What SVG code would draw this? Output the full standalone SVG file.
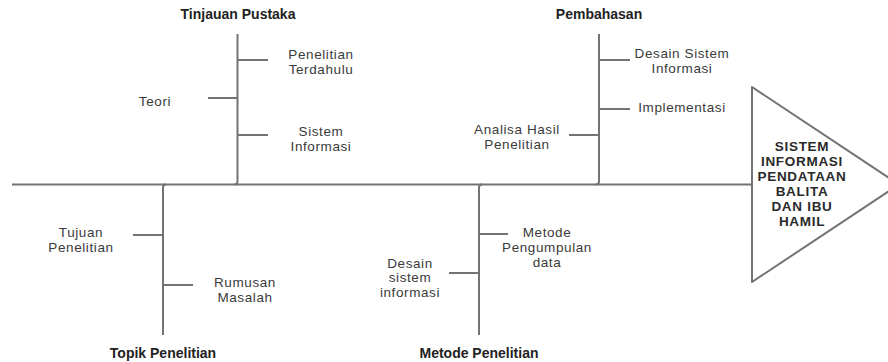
<svg xmlns="http://www.w3.org/2000/svg" width="888" height="362" viewBox="0 0 888 362">
<style>
.ln{fill:none;stroke:#737373;stroke-width:2;stroke-linecap:butt}
.t{font-family:"Liberation Sans",Arial,sans-serif;font-size:13.5px;letter-spacing:0.6px;fill:#3a3a3a;text-anchor:middle}
.h{font-family:"Liberation Sans",Arial,sans-serif;font-size:14px;font-weight:bold;fill:#222;text-anchor:middle}
.b{font-family:"Liberation Sans",Arial,sans-serif;font-size:13.5px;letter-spacing:0.7px;font-weight:bold;fill:#2a2a2a;text-anchor:middle}
</style>
<rect width="888" height="362" fill="#ffffff"/>
<g id="connectors">
<path class="ln" d="M12 184.5 H752"/>
<path class="ln" d="M237.5 34 V181.5 Q237.5 184.5 234.5 184.5"/>
<path class="ln" d="M599 34 V181.5 Q599 184.5 596 184.5"/>
<path class="ln" d="M166 184.5 Q163 184.5 163 187.5 V335"/>
<path class="ln" d="M482 184.5 Q479 184.5 479 187.5 V335"/>
<path class="ln" d="M238 60 H268 M208 98 H237.5 M238 135 H268"/>
<path class="ln" d="M599 60 H630 M599 109 H630 M569 135 H599"/>
<path class="ln" d="M133 235 H163 M163 285 H193"/>
<path class="ln" d="M479 234 H508 M449 273 H479"/>
</g>
<g id="tinjauan-pustaka"><text class="h" x="238" y="19">Tinjauan Pustaka</text></g>
<g id="penelitian-terdahulu"><text class="t" x="321" y="59">Penelitian</text><text class="t" x="321" y="74">Terdahulu</text></g>
<g id="teori"><text class="t" x="155" y="106">Teori</text></g>
<g id="sistem-informasi"><text class="t" x="321" y="136">Sistem</text><text class="t" x="321" y="151">Informasi</text></g>
<g id="pembahasan"><text class="h" x="599" y="19">Pembahasan</text></g>
<g id="desain-sistem-informasi"><text class="t" x="682" y="58">Desain Sistem</text><text class="t" x="682" y="73">Informasi</text></g>
<g id="implementasi"><text class="t" x="682" y="112">Implementasi</text></g>
<g id="analisa-hasil-penelitian"><text class="t" x="517" y="134">Analisa Hasil</text><text class="t" x="517" y="149">Penelitian</text></g>
<g id="topik-penelitian"><text class="h" x="163" y="358">Topik Penelitian</text></g>
<g id="tujuan-penelitian"><text class="t" x="81" y="237">Tujuan</text><text class="t" x="81" y="252">Penelitian</text></g>
<g id="rumusan-masalah"><text class="t" x="245" y="287">Rumusan</text><text class="t" x="245" y="302">Masalah</text></g>
<g id="metode-penelitian"><text class="h" x="479" y="358">Metode Penelitian</text></g>
<g id="metode-pengumpulan-data"><text class="t" x="547" y="237">Metode</text><text class="t" x="547" y="252">Pengumpulan</text><text class="t" x="547" y="267">data</text></g>
<g id="desain-sistem-informasi-2"><text class="t" x="410" y="267.5">Desain</text><text class="t" x="410" y="282">sistem</text><text class="t" x="410" y="297">informasi</text></g>
<g id="sistem-informasi-pendataan">
<path d="M752 87 L899 184.5 L752 282 Z" fill="#ffffff" stroke="#737373" stroke-width="2" stroke-linejoin="round"/>
<text class="b" x="802" y="151">SISTEM</text>
<text class="b" x="802" y="166">INFORMASI</text>
<text class="b" x="802" y="181">PENDATAAN</text>
<text class="b" x="802" y="196">BALITA</text>
<text class="b" x="802" y="211">DAN IBU</text>
<text class="b" x="802" y="226">HAMIL</text>
</g>
</svg>
